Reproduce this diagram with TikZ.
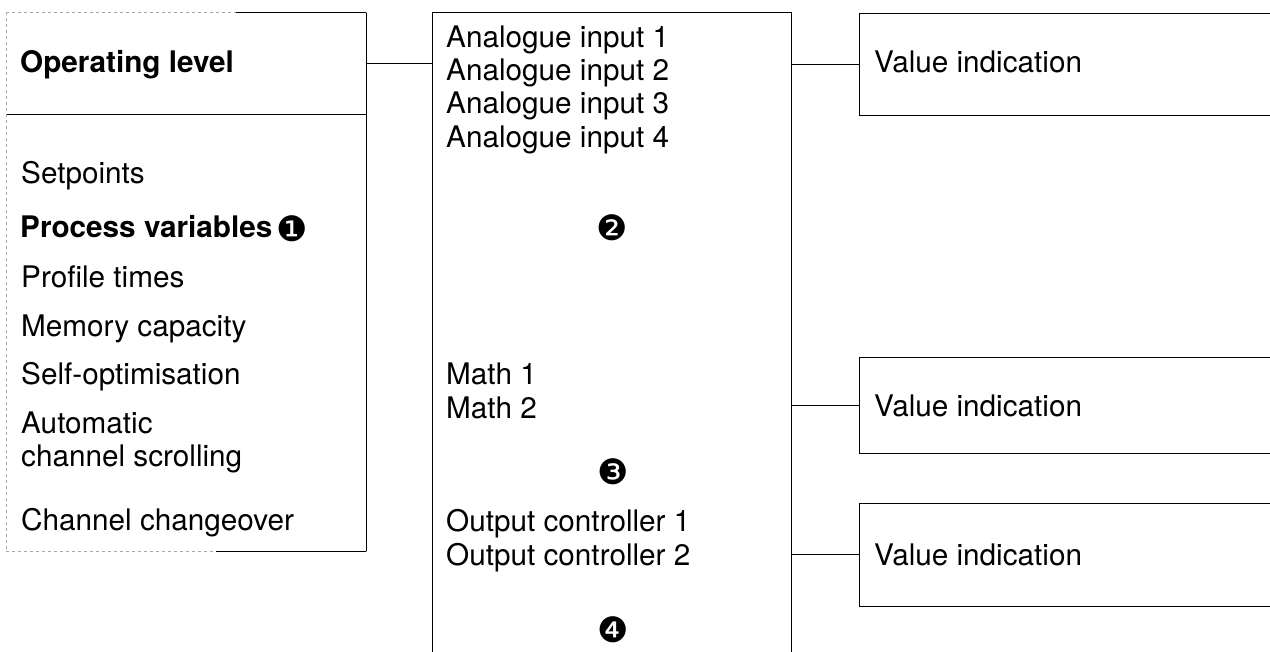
\documentclass[tikz,border=0pt]{standalone}
\usepackage{fontspec}
\setmainfont{TeX Gyre Heros}
\newfontfamily\djfont{DejaVu Sans}
\begin{document}
\begin{tikzpicture}[x=1pt,y=-1pt,
  box/.style={rectangle, draw=none, inner sep=0pt, anchor=north west},
  line/.style={draw=black, line width=0.9pt},
  faint/.style={draw=black!35, line width=0.8pt, dash pattern=on 3pt off 3pt},
  txt/.style={anchor=base west, inner sep=0pt, font=\fontsize{29.7}{33.3}\selectfont},
  btxt/.style={txt, font=\fontsize{29.7}{33.3}\selectfont\bfseries},
  num/.style={inner sep=0pt, font=\djfont\fontsize{35}{35}\selectfont}]
\useasboundingbox (0,0) rectangle (1270,652);
% left box
\node[box, minimum width=360pt, minimum height=102pt] (lvl) at (6,12) {};
\node[box, minimum width=360pt, minimum height=437pt] (menu) at (6,114) {};
\draw[line] (lvl.north east) -- (menu.south east);
\draw[line] (lvl.south west) -- (lvl.south east);
\draw[faint] (lvl.north west) -- (lvl.north east);
\draw[faint] (menu.south west) -- (menu.south east);
\draw[line] ([xshift=-130pt]lvl.north east) -- (lvl.north east);
\draw[line] ([xshift=-150pt]menu.south east) -- (menu.south east);
\draw[faint] (lvl.north west) -- (menu.south west);
% middle box
\node[box, minimum width=359pt, minimum height=645pt] (mid) at (432,12) {};
\draw[line] (mid.south west) -- (mid.north west) -- (mid.north east) -- (mid.south east);
% right boxes
\node[box, minimum width=420pt, minimum height=102pt] (v1) at (859,13) {};
\node[box, minimum width=420pt, minimum height=96pt] (v2) at (859,357) {};
\node[box, minimum width=420pt, minimum height=103pt] (v3) at (859,503) {};
\foreach \v in {v1,v2,v3}{
  \draw[line] (\v.north east) -- (\v.north west) -- (\v.south west) -- (\v.south east);
}
% connectors
\draw[line] (lvl.east) -- (lvl.east -| mid.west);
\draw[line] (v1.west) -- (v1.west -| mid.east);
\draw[line] (v2.west) -- (v2.west -| mid.east);
\draw[line] (v3.west) -- (v3.west -| mid.east);
% left texts
\node[btxt] (t0) at (20,73) {Operating level};
\node[txt] (t1) at (21,184) {Setpoints};
\node[btxt] (t2) at (20,238) {Process variables};
\node[num] (n1) at (292,229) {❶};
\node[txt] (t3) at (21,288) {Profile times};
\node[txt] (t4) at (21,337) {Memory capacity};
\node[txt] (t5) at (21,385) {Self-optimisation};
\node[txt] (t6a) at (21,433) {Automatic};
\node[txt] (t6b) at (21,466) {channel scrolling};
\node[txt] (t7) at (21,530) {Channel changeover};
% middle texts
\node[txt] (a1) at (446,48) {Analogue input 1};
\node[txt] (a2) at (446,81) {Analogue input 2};
\node[txt] (a3) at (446,114) {Analogue input 3};
\node[txt] (a4) at (446,148) {Analogue input 4};
\node[num] (n2) at (612,228) {❷};
\node[txt] (m1) at (446,385) {Math 1};
\node[txt] (m2) at (446,418) {Math 2};
\node[num] (n3) at (613,472) {❸};
\node[txt] (o1) at (446,531) {Output controller 1};
\node[txt] (o2) at (446,565) {Output controller 2};
\node[num] (n4) at (613,630) {❹};
% right texts
\node[txt] (r1) at (874,73) {Value indication};
\node[txt] (r2) at (874,417) {Value indication};
\node[txt] (r3) at (874,565) {Value indication};
\end{tikzpicture}
\end{document}
